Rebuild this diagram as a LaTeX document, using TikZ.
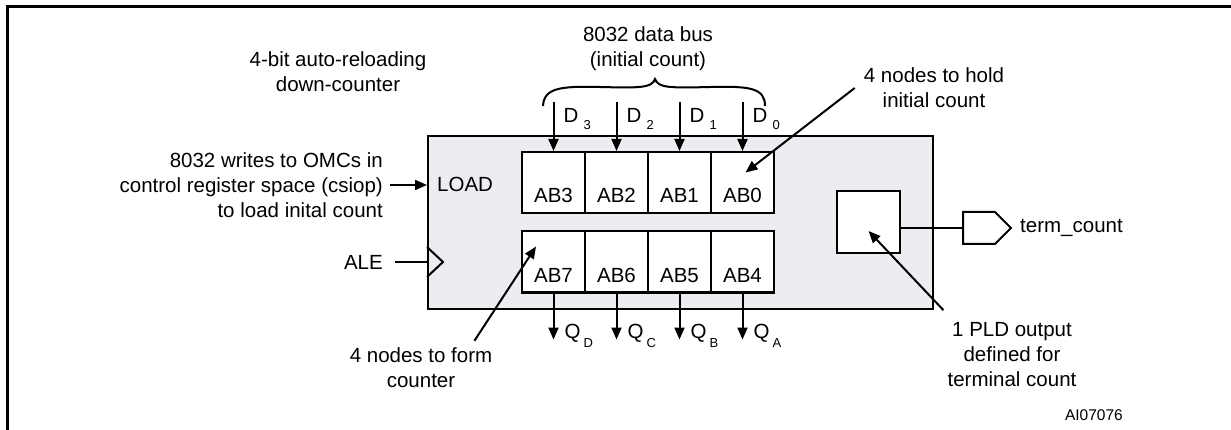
\documentclass[tikz,border=0pt]{standalone}
\usepackage{fontspec}
\setmainfont{Liberation Sans}
\usetikzlibrary{arrows.meta,positioning}
\definecolor{boxgrey}{RGB}{237,236,240}

\begin{document}
\begin{tikzpicture}[>={Triangle[length=12pt,width=10pt]},x=1pt,y=-1pt,
	txt/.style={font=\fontsize{20.5}{25}\selectfont,inner sep=0pt},
	wire/.style={line width=2pt},
	cell/.style={draw,wire,fill=white,minimum width=63pt,minimum height=61pt,inner sep=0pt,
		text height=45pt,text depth=4pt,font=\fontsize{20.5}{25}\selectfont}]
	\def\dsub#1{\hspace{5pt}\raisebox{-7pt}{\fontsize{13}{13}\selectfont #1}}
	\def\qsub#1{\hspace{3pt}\raisebox{-9pt}{\fontsize{13}{13}\selectfont #1}}
	\useasboundingbox (0,0) rectangle (1231,430);
	% figure frame
	\draw[line width=3pt] (7,430) -- (7,7) -- (1231,7);
	\node[draw,wire,fill=boxgrey,minimum width=505pt,minimum height=173pt,anchor=north west] (ctr) at (427,135) {};
	% registers
	\foreach \n [count=\i from 0] in {3,2,1,0}
		\node[cell] (ab\n) at (553.5+63*\i,182.5) {AB\n};
	\foreach \n [count=\i from 0] in {7,6,5,4}
		\node[cell] (ab\n) at (553.5+63*\i,262) {AB\n};
	\foreach \n in {3,2,1,0}{
		\coordinate (d\n) at ([yshift=49pt]ab\n.north);
		\draw[wire,->] (d\n) -- (ab\n.north);
		\node[txt,anchor=base west] (dl\n) at ([xshift=10pt,yshift=28pt]ab\n.north) {D\dsub{\n}};
	}
	\foreach \n/\q in {7/D,6/C,5/B,4/A}{
		\coordinate (q\n) at ([yshift=-46pt]ab\n.south);
		\draw[wire,->] (ab\n.south) -- (q\n);
		\node[txt,anchor=base west] (ql\n) at ([xshift=11pt,yshift=-45pt]ab\n.south) {Q\qsub{\q}};
	}
	\draw[wire] (543,106) .. controls (544,88) and (560,86) .. (600,87) .. controls (640,88) and (652,88) .. (655,79)
		.. controls (658,88) and (670,88) .. (710,87) .. controls (750,86) and (765,88) .. (765,106);
	\node[txt,align=center] (bus) at (648,49) {8032 data bus\\(initial count)};
	\node[txt,align=center] (kind) at (338,71.5) {4-bit auto-reloading\\down-counter};
	% inputs
	\node[txt,align=right,anchor=east,inner xsep=7pt] (wr) at (390,185) {8032 writes to OMCs in\\control register space (csiop)\\to load inital count};
	\draw[wire,->] (wr.east) -- (wr.east -| ctr.west);
	\node[txt,anchor=west] (load) at (437,184) {LOAD};
	\node[txt,anchor=east,inner xsep=12pt] (ale) at (395,262) {ALE};
	\coordinate (clk) at (ctr.west |- ale.east);
	\draw[wire] (ale.east) -- (clk);
	\draw[wire] ([yshift=15pt]clk) -- ([xshift=16pt]clk) -- ([yshift=-15pt]clk);
	% terminal count output
	\node[cell,minimum height=62pt] (pld) at (868.5,222) {};
	\coordinate (tc) at (963,228);
	\draw[wire] ([yshift=-6pt]pld.east) -- (tc);
	\draw[wire] (tc) -- ++(0,-16) -- ++(32,0) -- ++(16,16) -- ++(-16,16) -- ++(-32,0) -- cycle;
	\node[txt,anchor=west] (tcl) at (1020,228) {term\_count};
	% notes
	\node[txt,align=center] (hold) at (934,88) {4 nodes to hold\\initial count};
	\draw[wire,->] ([xshift=-9pt]hold.west) -- ([xshift=3pt,yshift=10pt]ab0.center);
	\node[txt,align=center] (form) at (421,368) {4 nodes to form\\counter};
	\draw[wire,->] ([xshift=-18pt,yshift=7pt]form.north east) -- ([xshift=15pt,yshift=-16pt]ab7.north west);
	\node[txt,align=center] (note) at (1012,354.5) {1 PLD output\\defined for\\terminal count};
	\draw[wire,->] ([xshift=-4pt,yshift=12pt]note.north west) -- ([yshift=-9pt]pld.center);
	\node[font=\fontsize{15.5}{18}\selectfont,inner sep=0pt,anchor=base east] (fig) at (1123,420) {AI07076};
\end{tikzpicture}
\end{document}
